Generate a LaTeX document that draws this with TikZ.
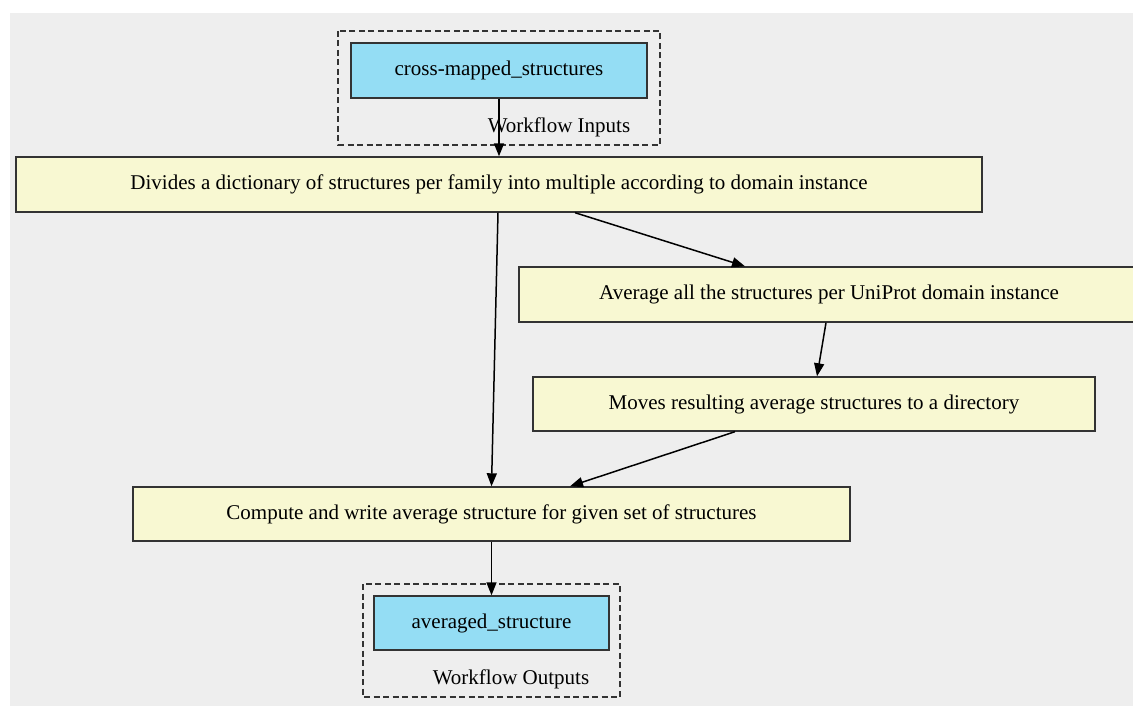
\documentclass[tikz,border=0pt]{standalone}
\usepackage{fontspec}
\setmainfont{Liberation Serif}
\usetikzlibrary{arrows.meta}
\definecolor{bgc}{HTML}{EEEEEE}
\definecolor{procc}{HTML}{F8F8D2}
\definecolor{ioc}{HTML}{94DDF4}
\definecolor{linec}{HTML}{333333}
\tikzset{
  box/.style={draw=linec, line width=1.4pt, rectangle, inner sep=0pt, font=\fontsize{21}{24}\selectfont},
  proc/.style={box, fill=procc},
  io/.style={box, fill=ioc},
  cluster/.style={draw=linec, line width=1.3pt, dash pattern=on 6pt off 3.5pt},
  lbl/.style={font=\fontsize{21}{24}\selectfont, inner sep=0pt},
  conn/.style={line width=1.5pt, black, -{Triangle[length=13pt,width=10pt]}}
}
\begin{document}
\begin{tikzpicture}[x=1pt,y=-1pt]
\useasboundingbox (0,0) rectangle (1133,706);
\fill[bgc] (10,13) rectangle (1133,706);
% clusters
\draw[cluster] (338,31) rectangle (660,145);
\node[lbl] (inlbl) at (559,127) {Workflow Inputs};
\draw[cluster] (363,584) rectangle (620,697);
\node[lbl] (outlbl) at (511,679) {Workflow Outputs};
% nodes
\node[io, minimum width=296pt, minimum height=55pt] (cms) at (499,70.5) {cross-mapped\_structures};
\node[proc, minimum width=966pt, minimum height=55pt] (div) at (499,184.5) {Divides a dictionary of structures per family into multiple according to domain instance};
\node[proc, minimum width=620pt, minimum height=55pt] (avg) at (829,294.5) {Average all the structures per UniProt domain instance};
\node[proc, minimum width=562pt, minimum height=54pt] (mov) at (814,404) {Moves resulting average structures to a directory};
\node[proc, minimum width=717pt, minimum height=54pt] (cmp) at (491.5,514) {Compute and write average structure for given set of structures};
\node[io, minimum width=235pt, minimum height=54pt] (avs) at (491.5,623) {averaged\_structure};
% connectors
\draw[conn] (cms.south) -- (div.north);
\draw[conn] ([xshift=-1pt]div.south) -- (cmp.north);
\draw[conn] ([xshift=76pt]div.south) -- ([xshift=-84pt]avg.north);
\draw[conn] ([xshift=-3pt]avg.south) -- ([xshift=3pt]mov.north);
\draw[conn] ([xshift=-79pt]mov.south) -- ([xshift=78.5pt]cmp.north);
\draw[conn] (cmp.south) -- (avs.north);
\end{tikzpicture}
\end{document}
